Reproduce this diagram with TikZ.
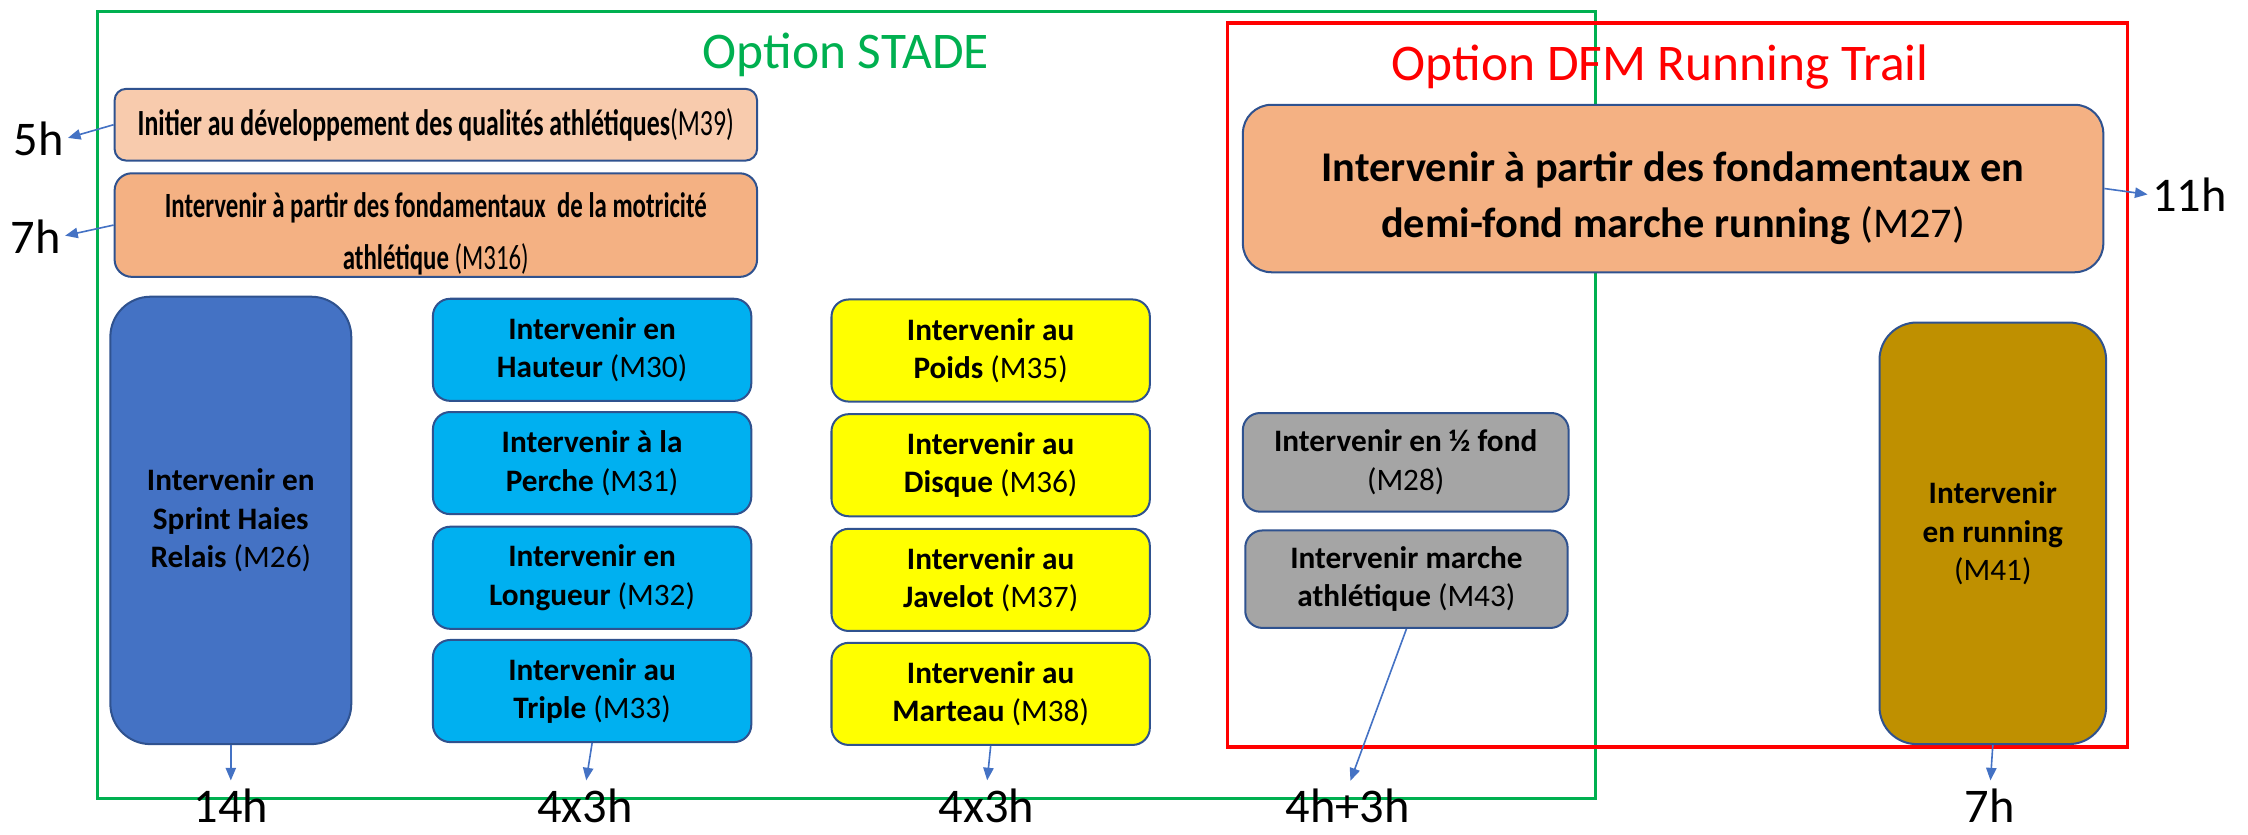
\documentclass[tikz,border=0pt]{standalone}
\usepackage{fontspec}
\setmainfont{Carlito}
\newfontfamily\tightfont{Carlito}[FakeStretch=0.7]
\usetikzlibrary{arrows.meta}

\definecolor{stadegreen}{HTML}{00B050}
\definecolor{trailred}{HTML}{FF0000}
\definecolor{modborder}{HTML}{2F528F}
\definecolor{paleorange}{HTML}{F8CBAD}
\definecolor{midorange}{HTML}{F4B183}
\definecolor{sprintblue}{HTML}{4472C4}
\definecolor{sautcyan}{HTML}{00B0F0}
\definecolor{lancer}{HTML}{FFFF00}
\definecolor{fondgray}{HTML}{A5A5A5}
\definecolor{rungold}{HTML}{BF9000}

\tikzset{
  module/.style={draw=modborder, line width=1pt, align=center, inner sep=1pt,
    font=\bfseries\fontsize{15.5}{19}\selectfont},
  smallmod/.style={module, minimum width=5.55cm, minimum height=1.78cm, rounded corners=0.3cm},
  widemod/.style={module, minimum width=11.2cm, fill=#1},
  hours/.style={inner sep=0pt, font=\fontsize{24}{28}\selectfont},
  title/.style={inner sep=0pt, font=\fontsize{25.5}{30}\selectfont},
  harrow/.style={draw=sprintblue, line width=0.8pt, -{Triangle[length=0.22cm,width=0.18cm]}},
}

\begin{document}
\begin{tikzpicture}[x=0.025cm, y=-0.025cm]
  \useasboundingbox (0,0) rectangle (1568,582);

  % the two options
  \draw[stadegreen, line width=1.6pt] (68,8) rectangle (1113,557);
  \draw[trailred, line width=1.6pt] (856,16) rectangle (1484,521);
  \node[title, text=stadegreen] (stade) at (590,38) {Option STADE};
  \node[title, text=trailred] (trail) at (1158,47) {Option DFM Running Trail};

  % common modules
  \node[widemod=paleorange, minimum height=1.25cm, rounded corners=0.2cm,
    font=\tightfont\bfseries\fontsize{18.3}{22}\selectfont]
    (m39) at (304,87) {Initier au développement des qualités athlétiques{\mdseries(M39)}};
  \node[widemod=midorange, minimum height=1.8cm, rounded corners=0.3cm,
    font=\tightfont\bfseries\fontsize{17.6}{25.6}\selectfont]
    (m316) at (304,157) {\rule{0pt}{21pt}Intervenir à partir des fondamentaux \ de la motricité\\athlétique {\mdseries(M316)}};
  \node[module, fill=midorange, minimum width=15cm, minimum height=2.92cm,
    rounded corners=0.5cm, font=\bfseries\fontsize{21}{27.7}\selectfont]
    (m27) at (1167,131.5) {\rule{0pt}{24pt}Intervenir à partir des fondamentaux en\\demi-fond marche running {\mdseries(M27)}};

  % stade
  \node[module, fill=sprintblue, minimum width=4.2cm, minimum height=7.8cm,
    rounded corners=0.7cm] (m26) at (161,363) {Intervenir en\\Sprint Haies\\Relais {\mdseries(M26)}};
  \node[smallmod, fill=sautcyan] (m30) at (413,244) {Intervenir en\\Hauteur {\mdseries(M30)}};
  \node[smallmod, fill=sautcyan] (m31) at (413,323) {Intervenir à la\\Perche {\mdseries(M31)}};
  \node[smallmod, fill=sautcyan] (m32) at (413,403) {Intervenir en\\Longueur {\mdseries(M32)}};
  \node[smallmod, fill=sautcyan] (m33) at (413,482) {Intervenir au\\Triple {\mdseries(M33)}};
  \node[smallmod, fill=lancer] (m35) at (691,244.5) {Intervenir au\\Poids {\mdseries(M35)}};
  \node[smallmod, fill=lancer] (m36) at (691,324.5) {Intervenir au\\Disque {\mdseries(M36)}};
  \node[smallmod, fill=lancer] (m37) at (691,404.5) {Intervenir au\\Javelot {\mdseries(M37)}};
  \node[smallmod, fill=lancer] (m38) at (691,484) {Intervenir au\\Marteau {\mdseries(M38)}};

  % running trail
  \node[smallmod, fill=fondgray, minimum width=5.68cm, minimum height=1.72cm]
    (m28) at (980.5,322.5) {Intervenir en ½ fond\\{\mdseries(M28)}};
  \node[smallmod, fill=fondgray, minimum width=5.62cm, minimum height=1.7cm]
    (m43) at (981,404) {Intervenir marche\\athlétique {\mdseries(M43)}};
  \node[module, fill=rungold, minimum width=3.95cm, minimum height=7.35cm,
    rounded corners=0.65cm] (m41) at (1390,372) {Intervenir\\en running\\{\mdseries(M41)}};

  % hours
  \node[hours] (h5) at (27,97) {5h};
  \node[hours] (h7) at (25,165) {7h};
  \node[hours] (h11) at (1527,136) {11h};
  \node[hours] (h14) at (161,562) {14h};
  \node[hours] (hsaut) at (408,562) {4x3h};
  \node[hours] (hlancer) at (688,562) {4x3h};
  \node[hours] (hfond) at (940,562) {4h+3h};
  \node[hours] (hrun) at (1388,562) {7h};

  \draw[harrow, shorten >=2pt] (m39.west) -- (h5.east);
  \draw[harrow, shorten >=2pt] (m316.west) -- (h7.east);
  \draw[harrow, shorten >=2pt] (m27.east) -- (h11.west);
  \draw[harrow, shorten >=4pt] (m26.south) -- (h14.north);
  \draw[harrow, shorten >=4pt] (m33.south) -- (hsaut.north);
  \draw[harrow, shorten >=4pt] (m38.south) -- (hlancer.north);
  \draw[harrow, shorten >=4pt] (m43.south) -- (hfond.north);
  \draw[harrow, shorten >=4pt] (m41.south) -- (hrun.north);
\end{tikzpicture}
\end{document}
